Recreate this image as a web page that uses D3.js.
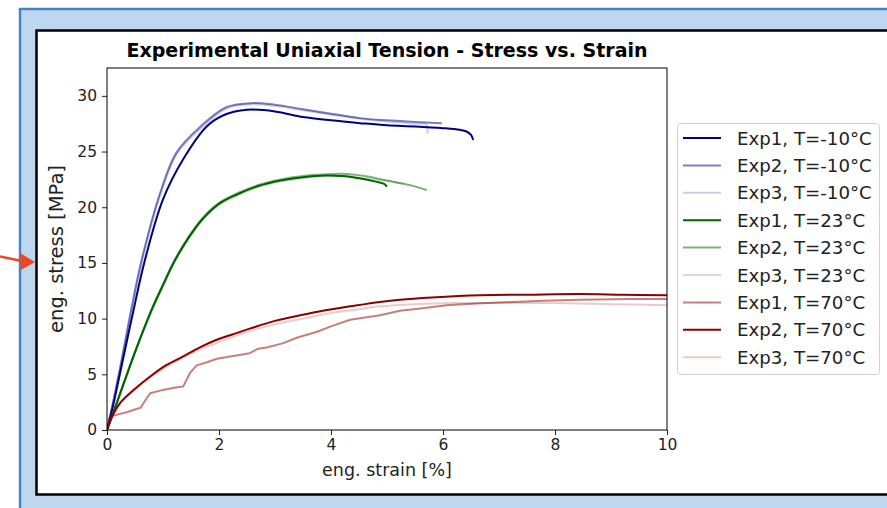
<!DOCTYPE html>
<html>
<head>
<meta charset="utf-8">
<script src="https://cdn.jsdelivr.net/npm/d3@7"></script>
<style>
    body { margin: 0; background: #fff; }
    svg { display: block; font-family: "DejaVu Sans", sans-serif; }
</style>
</head>
<body>
<script>
/*global d3*/

/** Strain [%] / stress [MPa], one pair per test **/
var strainN1 = [0, 0.1, 0.25, 0.45, 0.68, 1.0, 1.36, 1.78, 2.1, 2.5, 3.0, 3.5, 4.0, 4.52, 5.0, 5.5, 6.0, 6.3, 6.42, 6.5, 6.54];
var stressN1 = [0, 2.0, 5.5, 10.2, 15.3, 20.7, 24.3, 27.25, 28.3, 28.75, 28.6, 28.1, 27.8, 27.55, 27.35, 27.25, 27.1, 26.95, 26.8, 26.5, 26.05];
var strainN2 = [0, 0.1, 0.25, 0.42, 0.62, 0.95, 1.24, 1.66, 2.14, 2.6, 3.0, 3.5, 4.0, 4.52, 5.0, 5.5, 5.98];
var stressN2 = [0, 2.3, 6.0, 10.5, 15.3, 21.3, 24.9, 27.2, 29.0, 29.35, 29.2, 28.8, 28.4, 28.0, 27.8, 27.65, 27.55];
var strainN3 = [0, 0.1, 0.25, 0.43, 0.63, 0.96, 1.25, 1.68, 2.15, 2.6, 3.0, 3.5, 4.0, 4.5, 5.0, 5.5, 5.70, 5.72];
var stressN3 = [0, 2.2, 5.9, 10.4, 15.2, 21.2, 24.8, 27.1, 28.9, 29.25, 29.1, 28.7, 28.3, 27.95, 27.7, 27.5, 27.45, 26.6];

var strainG1 = [0, 0.2, 0.5, 0.8, 1.0, 1.2, 1.45, 1.7, 2.0, 2.3, 2.7, 3.1, 3.5, 3.9, 4.2, 4.5, 4.8, 4.95, 5.0];
var stressG1 = [0, 2.8, 7.0, 10.8, 13.0, 15.1, 17.2, 18.9, 20.3, 21.1, 21.9, 22.4, 22.7, 22.85, 22.8, 22.6, 22.3, 22.1, 21.85];
var strainG2 = [0, 0.2, 0.5, 0.8, 1.0, 1.2, 1.45, 1.7, 2.0, 2.3, 2.7, 3.1, 3.5, 3.9, 4.2, 4.6, 5.0, 5.4, 5.71];
var stressG2 = [0, 2.8, 7.0, 10.9, 13.1, 15.2, 17.3, 19.0, 20.4, 21.2, 22.0, 22.5, 22.8, 22.95, 23.0, 22.8, 22.4, 22.0, 21.55];
var strainG3 = [0, 0.2, 0.5, 0.8, 1.0, 1.2, 1.45, 1.7, 2.0, 2.3, 2.7, 3.1, 3.5, 3.9, 4.2, 4.6, 5.0, 5.3];
var stressG3 = [0, 2.7, 6.9, 10.7, 12.9, 15.0, 17.1, 18.8, 20.2, 21.0, 21.8, 22.3, 22.6, 22.8, 22.8, 22.6, 22.35, 22.1];

var strainR1 = [0, 0.05, 0.2, 0.35, 0.47, 0.6, 0.65, 0.77, 1.0, 1.2, 1.36, 1.42, 1.48, 1.6, 1.8, 1.96, 2.2, 2.55, 2.7, 2.85, 3.15, 3.4, 3.74, 4.0, 4.34, 4.875, 5.23, 5.6, 6.06, 6.6, 7.25, 7.8, 8.45, 9.34, 10];
var stressR1 = [0, 1.2, 1.4, 1.6, 1.8, 2.0, 2.4, 3.3, 3.6, 3.8, 3.9, 4.5, 5.1, 5.8, 6.1, 6.4, 6.6, 6.9, 7.3, 7.4, 7.8, 8.3, 8.8, 9.3, 9.9, 10.3, 10.7, 10.9, 11.2, 11.35, 11.5, 11.6, 11.7, 11.75, 11.75];
var strainR2 = [0, 0.1, 0.23, 0.5, 0.77, 1.05, 1.36, 1.65, 1.96, 2.25, 2.55, 3.0, 3.45, 3.9, 4.34, 4.875, 5.23, 5.8, 6.66, 7.5, 8.45, 9.2, 10];
var stressR2 = [0, 1.3, 2.4, 3.7, 4.8, 5.8, 6.6, 7.4, 8.1, 8.6, 9.1, 9.8, 10.3, 10.75, 11.1, 11.5, 11.7, 11.9, 12.1, 12.15, 12.2, 12.15, 12.1];
var strainR3 = [0, 0.1, 0.25, 0.5, 0.8, 1.1, 1.4, 1.7, 2.0, 2.5, 3.0, 3.5, 4.0, 4.5, 4.875, 5.5, 6.2, 7.25, 8.0, 9.0, 10];
var stressR3 = [0, 1.4, 2.5, 3.6, 4.8, 5.8, 6.6, 7.3, 7.9, 8.8, 9.5, 10.0, 10.5, 10.85, 11.1, 11.3, 11.4, 11.4, 11.4, 11.3, 11.2];

var seriesLabels = ["Exp1, T=-10°C", "Exp2, T=-10°C", "Exp3, T=-10°C",
                    "Exp1, T=23°C", "Exp2, T=23°C", "Exp3, T=23°C",
                    "Exp1, T=70°C", "Exp2, T=70°C", "Exp3, T=70°C"];
var seriesColors = ["#000080", "#000080", "#000080",
                    "#006400", "#006400", "#006400",
                    "#8b0000", "#8b0000", "#8b0000"];
var seriesAlpha = [1, 0.5, 0.2, 1, 0.5, 0.2, 0.5, 1, 0.2];
var seriesStrain = [strainN1, strainN2, strainN3, strainG1, strainG2, strainG3, strainR1, strainR2, strainR3];
var seriesStress = [stressN1, stressN2, stressN3, stressG1, stressG2, stressG3, stressR1, stressR2, stressR3];

var xTicks = [0, 2, 4, 6, 8, 10];
var yTicks = [0, 5, 10, 15, 20, 25, 30];

var svg = d3.select("body").append("svg")
    .attr("width", 887)
    .attr("height", 508);

/** Slide background and the black framed picture **/
svg.append("rect")
    .attr("x", 20).attr("y", 9)
    .attr("width", 900).attr("height", 520)
    .attr("fill", "#bdd7ee")
    .attr("stroke", "#4a84c4")
    .attr("stroke-width", 2.5);

svg.append("rect")
    .attr("x", 36.5).attr("y", 30.5)
    .attr("width", 880).attr("height", 464)
    .attr("fill", "#fff")
    .attr("stroke", "#000")
    .attr("stroke-width", 2.5);

/** Orange pointer on the left **/
svg.append("line")
    .attr("x1", 0).attr("y1", 256.5)
    .attr("x2", 22).attr("y2", 261)
    .attr("stroke", "#f0461e")
    .attr("stroke-width", 2.5);
svg.append("path")
    .attr("d", "M35,262 L20,253 L21,270 Z")
    .attr("fill", "#f0461e");

var plotLeft = 107, plotRight = 667, plotTop = 68, plotBottom = 430;

var x = d3.scaleLinear().domain([0, 10]).range([plotLeft, plotRight]);
var y = d3.scaleLinear().domain([0, 32.5]).range([plotBottom, plotTop]);

svg.append("clipPath").attr("id", "plot-clip")
    .append("rect")
    .attr("x", plotLeft).attr("y", plotTop)
    .attr("width", plotRight - plotLeft).attr("height", plotBottom - plotTop);

/** Curves **/
var plot = svg.append("g").attr("clip-path", "url(#plot-clip)");

seriesLabels.forEach(function (label, i) {
    var pts = seriesStrain[i].map(function (s, k) { return [s, seriesStress[i][k]]; });
    var line = d3.line()
        .x(function (d) { return x(d[0]); })
        .y(function (d) { return y(d[1]); })
        .curve(i === 6 ? d3.curveLinear : d3.curveCatmullRom.alpha(0.5));

    plot.append("path")
        .datum(pts)
        .attr("d", line)
        .attr("fill", "none")
        .attr("stroke", seriesColors[i])
        .attr("stroke-opacity", seriesAlpha[i])
        .attr("stroke-width", 2)
        .attr("stroke-linejoin", "round");
});

/** Axes **/
var xAxis = svg.append("g")
    .attr("transform", "translate(0," + plotBottom + ")")
    .call(d3.axisBottom(x).tickValues(xTicks).tickSize(5).tickPadding(4).tickFormat(d3.format("d")));

var yAxis = svg.append("g")
    .attr("transform", "translate(" + plotLeft + ",0)")
    .call(d3.axisLeft(y).tickValues(yTicks).tickSize(5).tickPadding(5).tickFormat(d3.format("d")));

[xAxis, yAxis].forEach(function (ax) {
    ax.select(".domain").remove();
    ax.selectAll("text")
        .attr("font-family", "DejaVu Sans")
        .attr("font-size", 15.5)
        .attr("fill", "#222");
    ax.selectAll("line").attr("stroke", "#222");
});

svg.append("rect")
    .attr("x", plotLeft).attr("y", plotTop)
    .attr("width", plotRight - plotLeft).attr("height", plotBottom - plotTop)
    .attr("fill", "none")
    .attr("stroke", "#000")
    .attr("stroke-width", 1);

/** Title and axis labels **/
svg.append("text")
    .attr("x", (plotLeft + plotRight) / 2).attr("y", 57)
    .attr("text-anchor", "middle")
    .attr("font-size", 19)
    .attr("font-weight", "bold")
    .text("Experimental Uniaxial Tension - Stress vs. Strain");

svg.append("text")
    .attr("x", (plotLeft + plotRight) / 2).attr("y", 476)
    .attr("text-anchor", "middle")
    .attr("font-size", 17.5)
    .attr("fill", "#222")
    .text("eng. strain [%]");

svg.append("text")
    .attr("transform", "translate(63," + (plotTop + plotBottom) / 2 + ") rotate(-90)")
    .attr("text-anchor", "middle")
    .attr("font-size", 19.5)
    .attr("fill", "#222")
    .text("eng. stress [MPa]");

/** Legend **/
var legend = svg.append("g");

legend.append("rect")
    .attr("x", 677.5).attr("y", 123.5)
    .attr("width", 202).attr("height", 251)
    .attr("rx", 3)
    .attr("fill", "#fff")
    .attr("stroke", "#d0d0d0");

seriesLabels.forEach(function (label, i) {
    var cy = 138 + i * 27.4;
    legend.append("line")
        .attr("x1", 683).attr("x2", 721)
        .attr("y1", cy).attr("y2", cy)
        .attr("stroke", seriesColors[i])
        .attr("stroke-opacity", seriesAlpha[i])
        .attr("stroke-width", 2);
    legend.append("text")
        .attr("x", 737).attr("y", cy + 6.5)
        .attr("font-size", 18.2)
        .attr("fill", "#222")
        .text(label);
});
</script>
</body>
</html>
